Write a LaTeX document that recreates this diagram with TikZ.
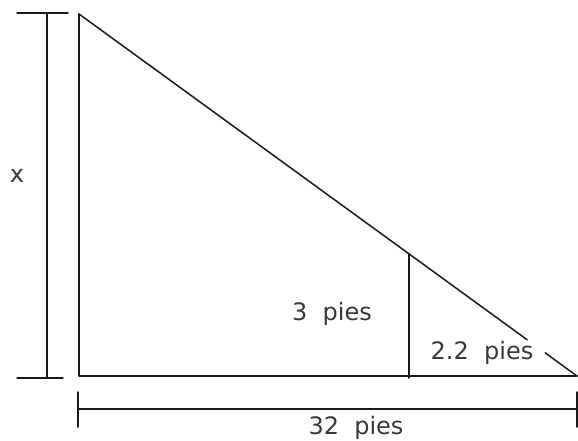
\documentclass[tikz,border=0pt]{standalone}
\usepackage{fontspec}
\setmainfont{DejaVu Sans}
\usetikzlibrary{calc}
\definecolor{qqqqqq}{rgb}{0.1,0.1,0.1}
\definecolor{wwwwww}{rgb}{0.22,0.22,0.22}
\begin{document}
\begin{tikzpicture}[line cap=round,line join=round,x=1pt,y=-1pt,line width=1.5pt]
    \useasboundingbox (0,0) rectangle (578,441);
    \coordinate (A) at (79,14);
    \coordinate (B) at (79,376);
    \coordinate (C) at (577,376);
    \coordinate (D) at (409,254);
    \coordinate (E) at (409,378);
    \coordinate (P) at ($(A)!0.9!(C)$);
    \coordinate (Q) at ($(A)!0.936!(C)$);
    \draw [color=qqqqqq] (A) -- (B) -- (C);
    \draw [color=qqqqqq] (A) -- (P);
    \draw [color=qqqqqq] (Q) -- (C);
    \draw [color=qqqqqq] (D) -- (E);
    \draw [color=qqqqqq] (17,13) -- (68,13);
    \draw [color=qqqqqq] (17,378) -- (63,378);
    \draw [color=qqqqqq] (47,13) -- (47,378);
    \draw [color=qqqqqq] (78,392) -- (78,427);
    \draw [color=qqqqqq] (577,392) -- (577,427);
    \draw [color=qqqqqq] (78,409) -- (577,409);
    \begin{scope}[font=\fontsize{24}{28}\selectfont,text=wwwwww,inner sep=0pt]
    \node (lx) at (17,176) {x};
    \node (lh) at (332,314) {3\ \ pies};
    \node (lc) at (482,353) {2.2\ \ pies};
    \node (lb) at (356,428) {32\ \ pies};
    \end{scope}
\end{tikzpicture}
\end{document}
